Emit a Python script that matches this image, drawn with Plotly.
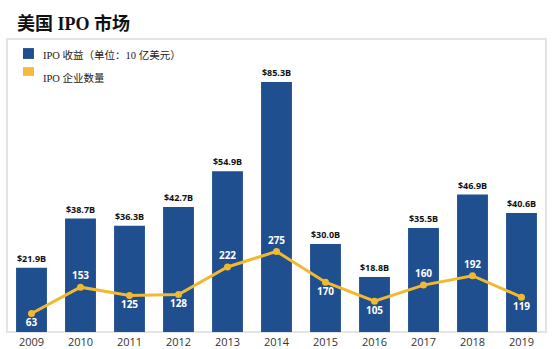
import plotly.graph_objects as go

# US IPO market, 2009-2019
years = ["2009", "2010", "2011", "2012", "2013", "2014", "2015", "2016", "2017", "2018", "2019"]
proceeds = [21.9, 38.7, 36.3, 42.7, 54.9, 85.3, 30.0, 18.8, 35.5, 46.9, 40.6]  # USD billions
ipo_counts = [63, 153, 125, 128, 222, 275, 170, 105, 160, 192, 119]
count_label_pos = ["bottom center", "top center", "bottom center", "bottom center", "top center",
                   "top center", "bottom center", "bottom center", "top center", "top center",
                   "bottom center"]

BLUE = "#1f4f8f"
YELLOW = "#f1b92f"
SERIF = "Liberation Serif, Noto Sans CJK SC, serif"
SANS = "Open Sans, Roboto, sans-serif"

fig = go.Figure()

fig.add_trace(go.Bar(
    x=years, y=proceeds,
    marker=dict(color=BLUE, line=dict(width=0)),
    text=[f"${v:.1f}B" for v in proceeds],
    textposition="outside",
    textfont=dict(family=SANS, size=9, color="#111111", weight="bold"),
    cliponaxis=False,
    showlegend=False,
))

fig.add_trace(go.Scatter(
    x=years, y=ipo_counts, yaxis="y2",
    mode="lines+markers+text",
    line=dict(color=YELLOW, width=3),
    marker=dict(color=YELLOW, size=7),
    text=[str(v) for v in ipo_counts],
    textposition=count_label_pos,
    textfont=dict(family=SANS, size=10, color="white", weight="bold"),
    cliponaxis=False,
    showlegend=False,
))

fig.update_layout(
    width=554, height=349,
    margin=dict(l=7, r=8, t=39, b=17),
    paper_bgcolor="white", plot_bgcolor="white",
    bargap=0.37,
    xaxis=dict(
        showgrid=False, zeroline=False, showline=False, ticks="",
        tickfont=dict(family=SANS, size=11, color="#333333"),
        ticklabelstandoff=2,
        automargin=False,
        range=[-0.5, 10.5],
    ),
    yaxis=dict(range=[0, 100], visible=False, automargin=False),
    yaxis2=dict(range=[0, 1000], overlaying="y", visible=False, automargin=False),
    shapes=[
        dict(type="rect", xref="paper", yref="paper", x0=0, x1=1, y0=0, y1=1,
             line=dict(color="#e4e4e4", width=2), layer="below"),
        dict(type="rect", xref="paper", yref="paper", x0=0.0297, x1=0.050, y0=0.969, y1=0.932,
             fillcolor=BLUE, line=dict(width=0)),
        dict(type="rect", xref="paper", yref="paper", x0=0.0297, x1=0.050, y0=0.904, y1=0.874,
             fillcolor="#f6bb3c", line=dict(width=0)),
    ],
    annotations=[
        dict(text="<b>美国 IPO 市场</b>", xref="paper", yref="paper", x=0.0, y=1.0,
             xshift=8, yshift=16, xanchor="left", yanchor="middle", showarrow=False,
             font=dict(family=SERIF, size=18, color="#111111")),
        dict(text="IPO 收益（单位：10 亿美元）", xref="paper", yref="paper", x=0.063, y=0.945,
             xanchor="left", yanchor="middle", showarrow=False,
             font=dict(family=SERIF, size=10.5, color="#222222")),
        dict(text="IPO 企业数量", xref="paper", yref="paper", x=0.063, y=0.867,
             xanchor="left", yanchor="middle", showarrow=False,
             font=dict(family=SERIF, size=10.5, color="#222222")),
    ],
)

fig.write_html("out.html")
